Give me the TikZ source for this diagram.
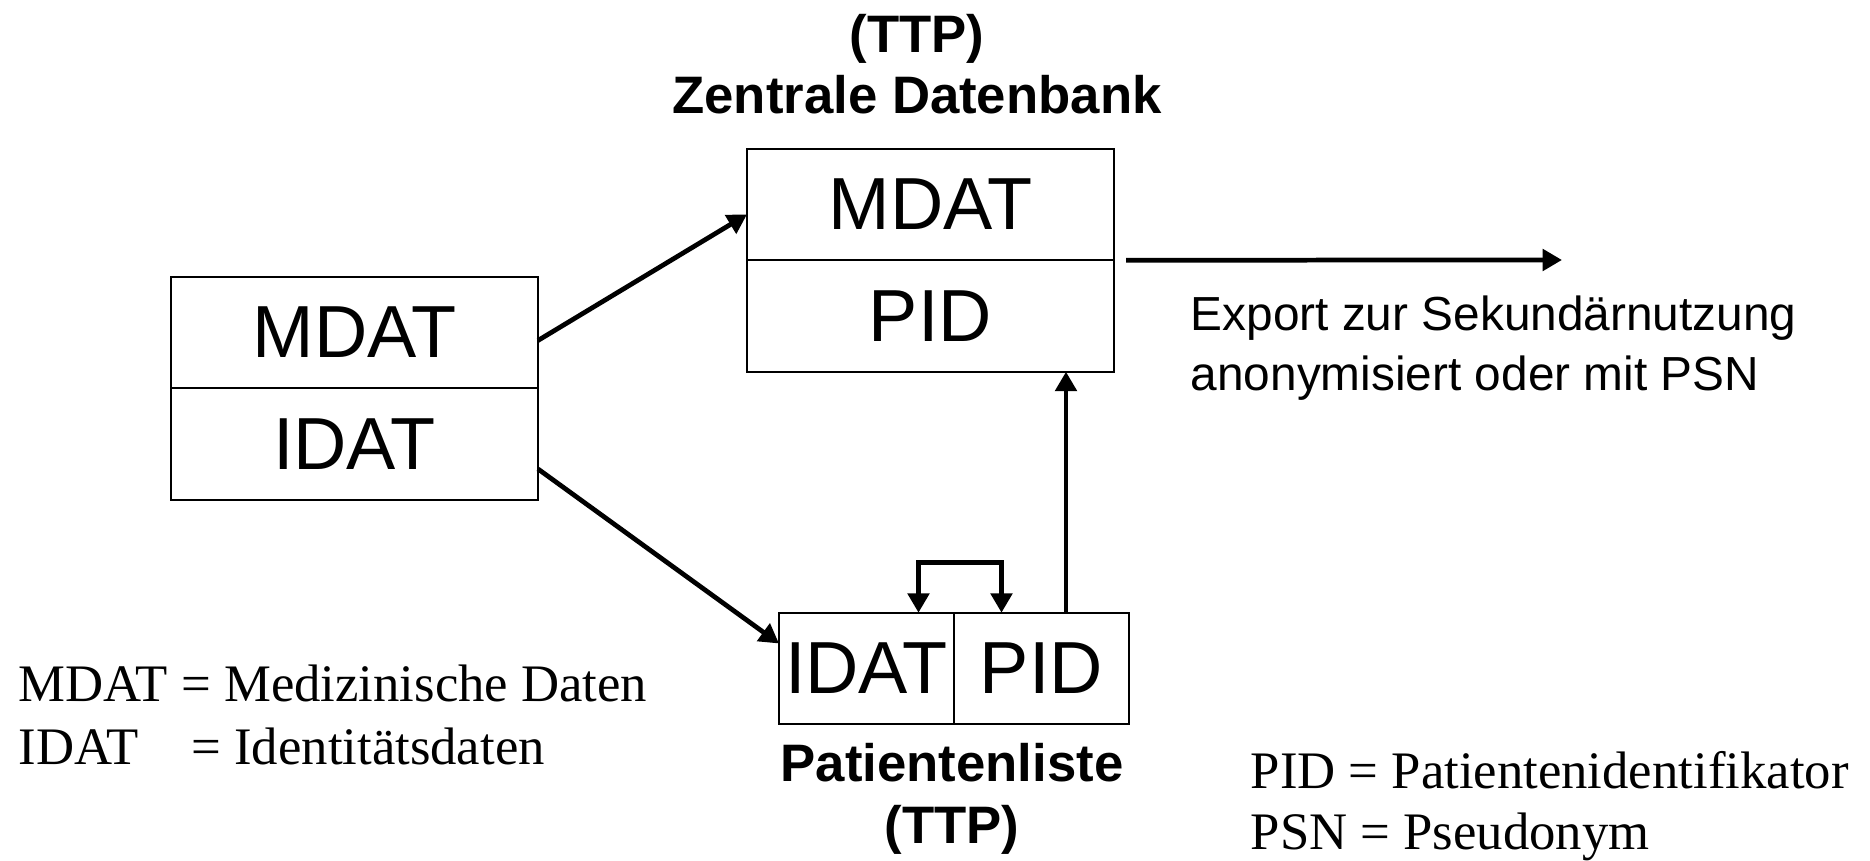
\documentclass[tikz,border=0pt]{standalone}
\usepackage{fontspec}
\setmainfont{Liberation Sans}
\newfontfamily\timesfont{Liberation Serif}
\usetikzlibrary{arrows.meta,positioning}

\begin{document}
\begin{tikzpicture}[
  >={Triangle[length=5.5pt,width=6pt]},
  feld/.style={draw,line width=0.6pt,inner sep=0pt,outer sep=0pt,minimum height=1.115cm,font=\fontsize{21}{25}\selectfont},
  pfeil/.style={line width=1.35pt,->},
  titel/.style={align=center,font=\fontsize{15}{17.5}\selectfont\bfseries},
  legende/.style={align=left,anchor=west,inner sep=0pt,font=\timesfont\fontsize{15}{18}\selectfont}
]
\useasboundingbox (0,0) rectangle (18.7,8.61);

% Quelle links
\node[feld,minimum width=3.67cm] (qmdat) at (3.545,5.285) {MDAT};
\node[feld,minimum width=3.67cm,below=0pt of qmdat] (qidat) {IDAT};

% Zentrale Datenbank
\node[feld,minimum width=3.67cm] (zmdat) at (9.305,6.565) {MDAT};
\node[feld,minimum width=3.67cm,below=0pt of zmdat] (zpid) {PID};
\node[titel] (ztitel) at (9.17,7.97) {(TTP)\\Zentrale Datenbank};

% Patientenliste
\node[feld,minimum width=1.75cm] (pidat) at (8.665,1.925) {IDAT};
\node[feld,minimum width=1.75cm,right=0pt of pidat] (ppid) {PID};
\node[titel] (ptitel) at (9.52,0.62) {Patientenliste\\(TTP)};

% Export
\coordinate (ziel) at (15.62,6.01);
\node[font=\fontsize{13.6}{17}\selectfont,align=left,anchor=west,inner sep=0pt] (export) at (11.9,5.13) {Export zur Sekundärnutzung\\anonymisiert oder mit PSN};

% Legenden
\node[legende] (leglinks) at (0.18,1.46) {MDAT = Medizinische Daten\\IDAT\hspace{15pt}= Identitätsdaten};
\node[legende,font=\timesfont\fontsize{15}{17.5}\selectfont] (legrechts) at (12.5,0.55) {PID = Patientenidentifikator\\PSN = Pseudonym};

% Pfeile
\draw[pfeil] ([yshift=-0.08cm]qmdat.east) -- ([yshift=-0.1cm]zmdat.west);
\draw[pfeil] ([yshift=-0.25cm]qidat.east) -- ([yshift=0.25cm]pidat.west);
\coordinate (hoch) at ([xshift=0.245cm]ppid.north);
\draw[pfeil] (hoch) -- (hoch |- zpid.south);
\draw[pfeil,<->] ([xshift=0.52cm]pidat.north) -- ++(0,0.5) -| ([xshift=-0.4cm]ppid.north);
\draw[pfeil] ([xshift=0.12cm]zmdat.south east) -- (ziel);

\end{tikzpicture}
\end{document}
